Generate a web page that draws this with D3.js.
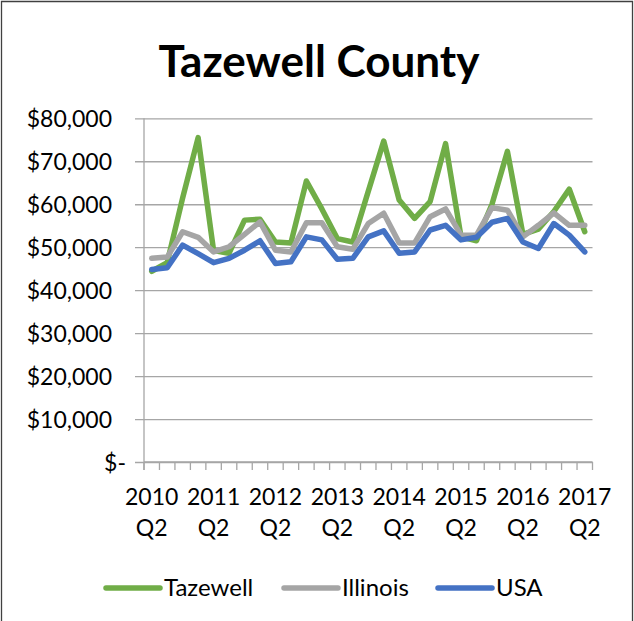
<!DOCTYPE html>
<html>
<head>
<meta charset="utf-8">
<script src="https://cdn.jsdelivr.net/npm/d3@7"></script>
<style>
    body { margin: 0; background: #ffffff; }
    svg { display: block; font-family: Lato, "Noto Sans", sans-serif; }
</style>
</head>
<body>
<div id="container"><svg id="drawing_area" width="634" height="621"></svg></div>
<script>
// Quarters on the x axis
var quarters = [
    "2010 Q2", "2010 Q3", "2010 Q4", "2011 Q1",
    "2011 Q2", "2011 Q3", "2011 Q4", "2012 Q1",
    "2012 Q2", "2012 Q3", "2012 Q4", "2013 Q1",
    "2013 Q2", "2013 Q3", "2013 Q4", "2014 Q1",
    "2014 Q2", "2014 Q3", "2014 Q4", "2015 Q1",
    "2015 Q2", "2015 Q3", "2015 Q4", "2016 Q1",
    "2016 Q2", "2016 Q3", "2016 Q4", "2017 Q1",
    "2017 Q2"
]

// Only the Q2 quarters get a label
var xTickLabels = ["2010 Q2", "2011 Q2", "2012 Q2", "2013 Q2", "2014 Q2", "2015 Q2", "2016 Q2", "2017 Q2"]

var yTicks = [0, 10000, 20000, 30000, 40000, 50000, 60000, 70000, 80000]

// Series values
var tazewell = [44400, 46400, 61500, 75500, 49200, 48600, 56300, 56500,
    51200, 51000, 65400, 58900, 52000, 51200, 63000, 74700,
    61000, 56700, 60600, 74100, 52400, 51500, 60000, 72300,
    53000, 54200, 58300, 63500, 53600]

var illinois = [47400, 47700, 53600, 52300, 48900, 50100, 53000, 55900,
    49300, 48900, 55700, 55700, 50100, 49500, 55500, 57900,
    51000, 51000, 57100, 58900, 52800, 52800, 59200, 58600,
    52400, 55100, 58000, 55100, 55100]

var usa = [44800, 45200, 50500, 48500, 46400, 47400, 49300, 51500,
    46200, 46600, 52400, 51700, 47200, 47400, 52400, 53800,
    48600, 48900, 54000, 55100, 51700, 52300, 55800, 56700,
    51200, 49700, 55500, 52800, 48900]

var seriesNames = ["Tazewell", "Illinois", "USA"]
var seriesColors = ["#70AD47", "#A5A5A5", "#4472C4"]

function draw() {
    var svg = d3.select("#drawing_area")
    var series = [tazewell, illinois, usa]

    var left = 144, right = 592.5, top = 118.3, bottom = 462

    var x = d3.scaleBand().domain(quarters).range([left, right]).padding(0)
    var y = d3.scaleLinear().domain([0, 80000]).range([bottom, top])

    // Chart border
    svg.append("path")
        .attr("d", "M1.5,640 V1.5 H632.5 V640")
        .attr("fill", "none")
        .attr("stroke", "#404040")
        .attr("stroke-width", 1.3)

    // Title
    var title = svg.append("text")
        .attr("x", 319)
        .attr("y", 77)
        .attr("text-anchor", "middle")
        .attr("font-weight", 700)
        .attr("font-size", 40)
        .attr("fill", "#000")
        .text("Tazewell County")
    var w = title.node().getComputedTextLength()
    title.attr("font-size", 40 * 321 / w)

    // Gridlines + y labels
    var yAxis = d3.axisLeft(y)
        .tickValues(yTicks)
        .tickSizeInner(-(right - left + 9))
        .tickSizeOuter(0)
        .tickPadding(23)
        .tickFormat(function(v) { return v === 0 ? "$-" : d3.format("$,")(v) })

    var gy = svg.append("g")
        .attr("transform", "translate(" + (left - 9) + ",0)")
        .call(yAxis)
    gy.select(".domain").remove()
    gy.selectAll(".tick line").attr("stroke", "#a6a6a6").attr("stroke-width", 1.3)
    gy.selectAll(".tick text")
        .attr("font-size", 23)
        .attr("font-family", "Lato, 'Noto Sans', sans-serif")
        .attr("fill", "#000")
        .attr("dy", "0.36em")
    gy.selectAll(".tick text").filter(function(v) { return v === 0 }).attr("dx", 14)

    // y axis line
    svg.append("line")
        .attr("x1", left).attr("x2", left)
        .attr("y1", top).attr("y2", bottom + 8)
        .attr("stroke", "#a6a6a6").attr("stroke-width", 1.3)

    // x axis: ticks on category edges
    var edges = quarters.map(function(q) { return x(q) }).concat([right])
    svg.append("line")
        .attr("x1", left).attr("x2", right)
        .attr("y1", bottom).attr("y2", bottom)
        .attr("stroke", "#a6a6a6").attr("stroke-width", 1.3)
    svg.selectAll(".xtick").data(edges).enter().append("line")
        .attr("class", "xtick")
        .attr("x1", function(d) { return d }).attr("x2", function(d) { return d })
        .attr("y1", bottom).attr("y2", bottom + 8)
        .attr("stroke", "#a6a6a6").attr("stroke-width", 1.3)

    // x labels, two lines each
    var xl = svg.selectAll(".xlabel").data(xTickLabels).enter().append("text")
        .attr("class", "xlabel")
        .attr("text-anchor", "middle")
        .attr("font-size", 23)
        .attr("fill", "#000")
    xl.append("tspan")
        .attr("x", function(d) { return x(d) + x.bandwidth() / 2 })
        .attr("y", 505)
        .text(function(d) { return d.split(" ")[0] })
    xl.append("tspan")
        .attr("x", function(d) { return x(d) + x.bandwidth() / 2 })
        .attr("y", 536)
        .text(function(d) { return d.split(" ")[1] })

    // Lines
    var line = d3.line()
        .x(function(d, i) { return x(quarters[i]) + x.bandwidth() / 2 })
        .y(function(d) { return y(d) })

    for (var s = 0; s < series.length; s++) {
        svg.append("path")
            .datum(series[s])
            .attr("d", line)
            .attr("fill", "none")
            .attr("stroke", seriesColors[s])
            .attr("stroke-width", 5.5)
            .attr("stroke-linejoin", "round")
            .attr("stroke-linecap", "round")
    }

    // Legend
    var legendX = [106, 284, 438]
    for (var k = 0; k < seriesNames.length; k++) {
        svg.append("line")
            .attr("x1", legendX[k]).attr("x2", legendX[k] + 54)
            .attr("y1", 588).attr("y2", 588)
            .attr("stroke", seriesColors[k])
            .attr("stroke-width", 5.5)
            .attr("stroke-linecap", "round")
        svg.append("text")
            .attr("x", legendX[k] + 58)
            .attr("y", 596)
            .attr("font-size", 24)
            .attr("fill", "#000")
            .text(seriesNames[k])
    }
}

draw()
</script>
</body>
</html>
